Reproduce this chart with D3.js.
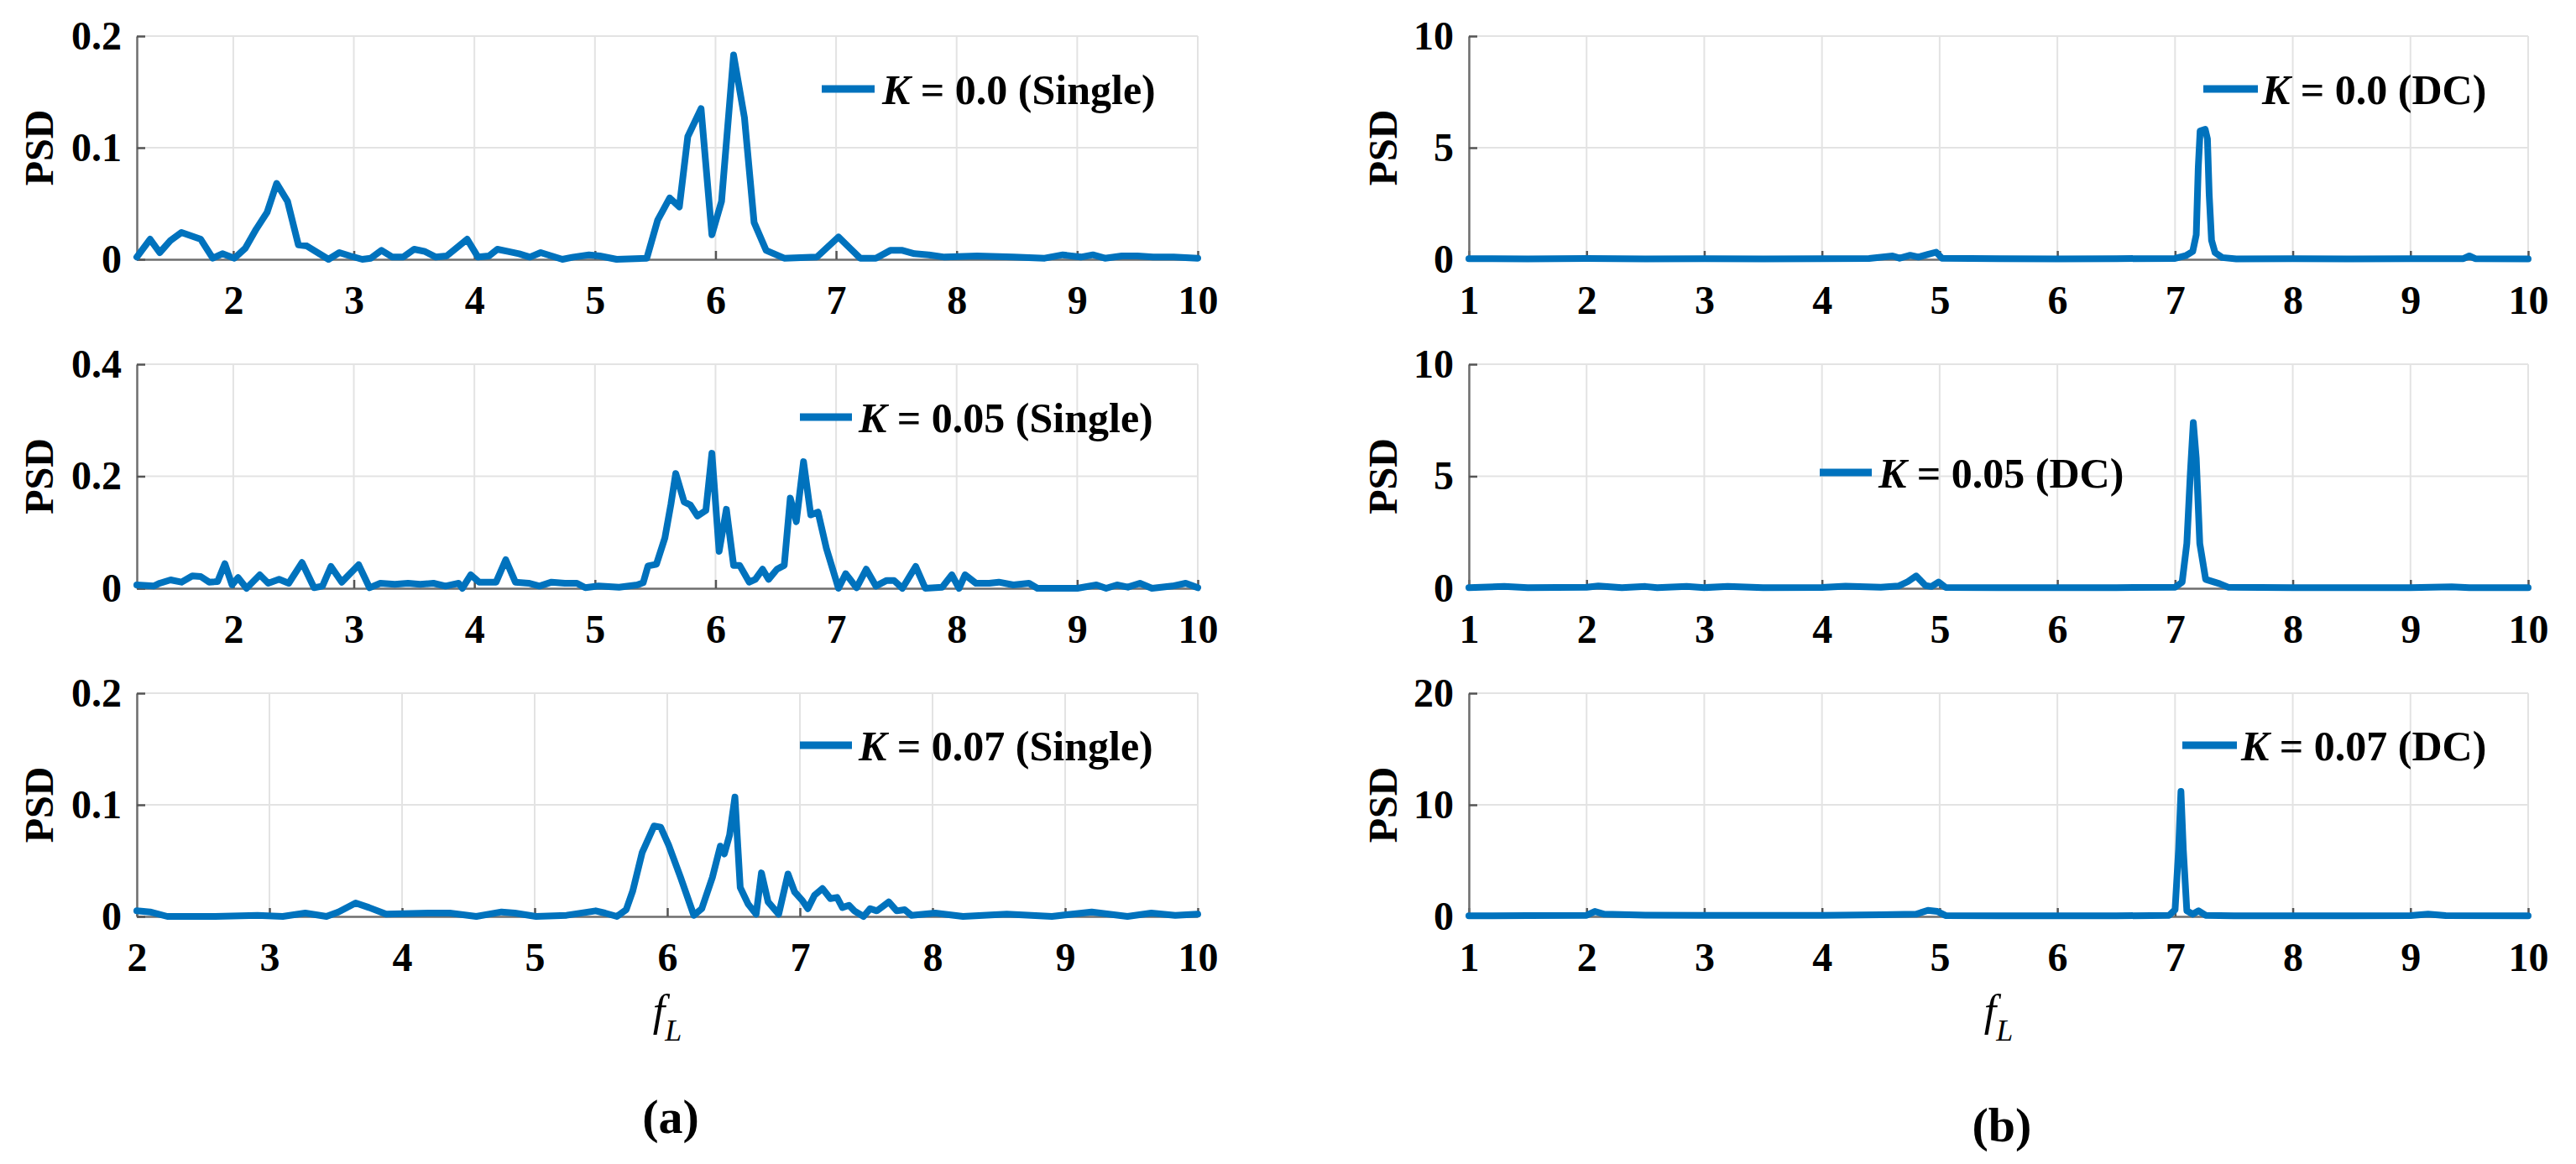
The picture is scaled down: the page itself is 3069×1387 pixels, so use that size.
<!DOCTYPE html>
<html>
<head>
<meta charset="utf-8">
<script src="https://cdn.jsdelivr.net/npm/d3@7"></script>
<style>
  html, body { margin: 0; padding: 0; background: #fff; }
  svg { display: block; }
  text { font-family: "Liberation Serif", "Times New Roman", serif; fill: #000; }
</style>
</head>
<body>
<svg id="fig" width="3069" height="1387"></svg>
<script>
"use strict";

// PSD curves, [f_L, PSD]
var singleK000 = [[1.2,0.002],[1.31,0.018],[1.39,0.006],[1.48,0.017],[1.57,0.024],[1.73,0.018],[1.83,0.001],[1.91,0.005],
  [2.01,0.001],[2.10,0.010],[2.19,0.027],[2.28,0.042],[2.36,0.068],[2.45,0.052],[2.54,0.013],[2.61,0.012],[2.79,0.000],
  [2.88,0.006],[2.97,0.003],[3.07,0.000],[3.14,0.001],[3.23,0.008],[3.32,0.002],[3.41,0.002],[3.50,0.009],[3.59,0.007],
  [3.68,0.002],[3.77,0.003],[3.94,0.018],[4.03,0.002],[4.12,0.003],[4.19,0.009],[4.28,0.007],[4.37,0.005],[4.46,0.002],
  [4.55,0.006],[4.64,0.003],[4.73,0.000],[4.82,0.002],[4.95,0.004],[5.04,0.003],[5.18,0.000],[5.43,0.001],[5.52,0.035],
  [5.62,0.055],[5.70,0.047],[5.77,0.110],[5.88,0.135],[5.97,0.022],[6.05,0.052],[6.15,0.183],[6.24,0.127],[6.32,0.033],
  [6.42,0.008],[6.57,0.001],[6.84,0.002],[7.02,0.020],[7.20,0.001],[7.33,0.001],[7.45,0.008],[7.55,0.008],[7.65,0.005],
  [7.77,0.004],[7.90,0.002],[8.17,0.003],[8.47,0.002],[8.73,0.001],[8.88,0.004],[9.03,0.002],[9.13,0.004],[9.23,0.001],
  [9.37,0.003],[9.50,0.003],[9.63,0.002],[9.80,0.002],[10.0,0.001]];

var singleK005 = [[1.2,0.006],[1.34,0.004],[1.39,0.009],[1.48,0.015],[1.57,0.011],[1.66,0.022],[1.73,0.021],[1.80,0.011],
  [1.87,0.012],[1.93,0.044],[1.99,0.006],[2.04,0.019],[2.11,0.000],[2.22,0.024],[2.29,0.009],[2.38,0.016],[2.46,0.009],
  [2.57,0.046],[2.67,0.001],[2.74,0.004],[2.81,0.039],[2.90,0.011],[3.04,0.042],[3.13,0.001],[3.22,0.009],[3.34,0.007],
  [3.45,0.009],[3.55,0.007],[3.66,0.009],[3.76,0.004],[3.87,0.009],[3.90,0.000],[3.97,0.024],[4.04,0.011],[4.18,0.011],
  [4.26,0.051],[4.34,0.011],[4.45,0.009],[4.54,0.004],[4.64,0.011],[4.75,0.009],[4.85,0.009],[4.92,0.001],[5.03,0.004],
  [5.20,0.002],[5.35,0.006],[5.40,0.010],[5.44,0.040],[5.51,0.043],[5.58,0.090],[5.63,0.150],[5.67,0.205],[5.74,0.154],
  [5.79,0.149],[5.85,0.129],[5.92,0.139],[5.97,0.241],[6.03,0.066],[6.09,0.141],[6.15,0.041],[6.20,0.041],[6.28,0.011],
  [6.33,0.016],[6.39,0.034],[6.44,0.016],[6.51,0.034],[6.57,0.041],[6.62,0.161],[6.67,0.119],[6.73,0.226],[6.79,0.131],
  [6.85,0.136],[6.92,0.071],[7.02,0.000],[7.08,0.026],[7.17,0.001],[7.25,0.034],[7.33,0.004],[7.42,0.014],[7.48,0.014],
  [7.55,0.000],[7.66,0.039],[7.74,0.000],[7.88,0.002],[7.96,0.024],[8.02,0.000],[8.07,0.024],[8.16,0.009],[8.27,0.009],
  [8.35,0.011],[8.47,0.006],[8.60,0.009],[8.67,0.000],[8.80,0.000],[9.00,0.000],[9.16,0.006],[9.24,0.000],[9.33,0.006],
  [9.42,0.002],[9.52,0.009],[9.62,0.000],[9.79,0.004],[9.90,0.009],[10.0,0.001]];

var singleK007 = [[2.0,0.005],[2.10,0.004],[2.23,0.000],[2.59,0.000],[2.91,0.001],[3.10,0.000],[3.27,0.003],[3.43,0.000],
  [3.52,0.004],[3.65,0.012],[3.75,0.008],[3.88,0.002],[4.20,0.003],[4.36,0.003],[4.56,0.000],[4.75,0.004],[4.85,0.003],
  [5.01,0.000],[5.24,0.001],[5.46,0.005],[5.53,0.003],[5.62,0.000],[5.69,0.006],[5.74,0.023],[5.81,0.057],[5.90,0.081],
  [5.95,0.080],[6.01,0.064],[6.10,0.035],[6.20,0.001],[6.26,0.007],[6.34,0.035],[6.40,0.063],[6.43,0.056],[6.47,0.073],
  [6.51,0.107],[6.55,0.026],[6.61,0.011],[6.67,0.002],[6.71,0.039],[6.76,0.013],[6.84,0.002],[6.91,0.038],[6.96,0.022],
  [7.02,0.014],[7.06,0.007],[7.11,0.019],[7.17,0.025],[7.23,0.016],[7.28,0.017],[7.32,0.008],[7.37,0.010],[7.41,0.005],
  [7.48,0.000],[7.53,0.007],[7.58,0.005],[7.67,0.013],[7.73,0.005],[7.79,0.006],[7.84,0.001],[8.02,0.003],[8.23,0.000],
  [8.56,0.002],[8.90,0.000],[9.20,0.004],[9.47,0.000],[9.65,0.003],[9.83,0.001],[10.0,0.002]];

var dcK000 = [[1.0,0.03],[1.5,0.02],[2.0,0.04],[2.5,0.02],[3.0,0.03],[3.5,0.02],[4.0,0.03],[4.4,0.04],[4.6,0.15],
  [4.66,0.05],[4.75,0.18],[4.82,0.10],[4.90,0.22],[4.97,0.32],[5.02,0.05],[5.5,0.03],[6.0,0.02],[6.5,0.03],[7.0,0.04],
  [7.09,0.16],[7.15,0.35],[7.18,1.1],[7.197,4.1],[7.213,5.75],[7.256,5.82],[7.275,5.4],[7.29,2.9],[7.31,0.85],[7.34,0.3],
  [7.40,0.08],[7.52,0.02],[8.0,0.03],[8.5,0.02],[9.0,0.03],[9.45,0.03],[9.5,0.15],[9.55,0.03],[10.0,0.02]];

var dcK005 = [[1.0,0.03],[1.3,0.08],[1.5,0.03],[2.0,0.05],[2.1,0.10],[2.3,0.03],[2.5,0.08],[2.6,0.03],[2.85,0.08],
  [3.0,0.03],[3.2,0.08],[3.5,0.03],[4.0,0.04],[4.2,0.09],[4.5,0.05],[4.65,0.10],[4.73,0.30],[4.80,0.55],[4.88,0.12],
  [4.93,0.08],[4.99,0.28],[5.05,0.04],[5.5,0.03],[6.0,0.03],[6.5,0.03],[7.0,0.05],[7.06,0.27],[7.10,2.0],[7.13,5.15],
  [7.155,7.4],[7.18,5.8],[7.21,2.0],[7.26,0.4],[7.38,0.2],[7.45,0.05],[8.0,0.03],[8.5,0.03],[9.0,0.03],[9.35,0.07],
  [9.5,0.03],[10.0,0.03]];

var dcK007 = [[1.0,0.05],[1.5,0.08],[2.0,0.10],[2.07,0.45],[2.15,0.20],[2.5,0.12],[3.0,0.10],[3.5,0.10],[4.0,0.10],
  [4.5,0.15],[4.8,0.20],[4.9,0.55],[4.98,0.45],[5.05,0.08],[5.5,0.05],[6.0,0.05],[6.5,0.05],[6.95,0.10],[7.0,0.6],
  [7.03,6.0],[7.05,11.2],[7.07,6.0],[7.10,0.5],[7.15,0.2],[7.2,0.5],[7.26,0.1],[7.5,0.05],[8.0,0.05],[8.5,0.05],
  [9.0,0.08],[9.15,0.20],[9.3,0.08],[10.0,0.05]];

// legend text after "K = "
var legendSingle = ["0.0 (Single)", "0.05 (Single)", "0.07 (Single)"];
var legendDC = ["0.0 (DC)", "0.05 (DC)", "0.07 (DC)"];

// tick labels
var xTicksA = [2, 3, 4, 5, 6, 7, 8, 9, 10];
var xTicksB = [1, 2, 3, 4, 5, 6, 7, 8, 9, 10];
var yTicksA = [[0, 0.1, 0.2], [0, 0.2, 0.4], [0, 0.1, 0.2]];
var yTicksB = [[0, 5, 10], [0, 5, 10], [0, 10, 20]];
var xMinA = [1.2, 1.2, 2];

var svg = d3.select("#fig");
var blue = "#0072BD";

//Rows and columns of the 3x2 grid of small plots
var rows = [{top: 43, zero: 309, leg: 106}, {top: 434, zero: 701, leg: 497}, {top: 826, zero: 1092, leg: 888}];
var colA = {x0: 163, x1: 1427, psdX: 46};
var colB = {x0: 1750, x1: 3012, psdX: 1647};

//Legend boxes: line start, line end, text start
var legA = [[979, 1042, 1051], [953, 1015, 1023], [953, 1015, 1023]];
var legB = [[2625, 2690, 2695], [2168, 2230, 2238], [2600, 2665, 2670]];
var legBy = [106, 563, 888];

function drawPanel(col, row, xDom, xTicks, yTicks, data, legText, leg, legY) {
  var x = d3.scaleLinear().domain(xDom).range([col.x0, col.x1]);
  var y = d3.scaleLinear().domain([0, yTicks[yTicks.length - 1]]).range([row.zero, row.top]);
  var g = svg.append("g");

  //grid
  g.append("g").selectAll("line").data(xTicks).enter().append("line")
    .attr("x1", function(d) { return x(d); }).attr("x2", function(d) { return x(d); })
    .attr("y1", row.top).attr("y2", row.zero)
    .attr("stroke", "#e3e3e3").attr("stroke-width", 2);
  g.append("g").selectAll("line").data(yTicks.slice(1)).enter().append("line")
    .attr("x1", col.x0).attr("x2", col.x1)
    .attr("y1", function(d) { return y(d); }).attr("y2", function(d) { return y(d); })
    .attr("stroke", "#e3e3e3").attr("stroke-width", 2);

  //axes
  var ax = g.append("g").attr("transform", "translate(0," + row.zero + ")")
    .call(d3.axisBottom(x).tickValues(xTicks).tickSizeInner(-10).tickSizeOuter(0).tickPadding(31)
      .tickFormat(d3.format("~g")));
  var ay = g.append("g").attr("transform", "translate(" + col.x0 + ",0)")
    .call(d3.axisLeft(y).tickValues(yTicks).tickSizeInner(-10).tickSizeOuter(0).tickPadding(18)
      .tickFormat(d3.format("~g")));
  [ax, ay].forEach(function(a) {
    a.select(".domain").attr("stroke", "#6e6e6e").attr("stroke-width", 2.5);
    a.selectAll(".tick line").attr("stroke", "#555").attr("stroke-width", 2.5);
    a.selectAll(".tick text").attr("fill", "#000")
      .style("font-family", "'Liberation Serif', serif").style("font-size", "48px").style("font-weight", "bold");
  });

  //PSD curve
  var line = d3.line().x(function(d) { return x(d[0]); }).y(function(d) { return y(d[1]); });
  g.append("path").datum(data).attr("d", line)
    .attr("fill", "none").attr("stroke", blue).attr("stroke-width", 8)
    .attr("stroke-linejoin", "round").attr("stroke-linecap", "round");

  //y label
  var my = (row.top + row.zero) / 2;
  g.append("text").attr("transform", "translate(" + col.psdX + "," + my + ") rotate(-90)")
    .attr("text-anchor", "middle").attr("dy", "0.35em")
    .attr("font-size", "48px").attr("font-weight", "bold").text("PSD");

  //legend
  g.append("line").attr("x1", leg[0]).attr("x2", leg[1]).attr("y1", legY).attr("y2", legY)
    .attr("stroke", blue).attr("stroke-width", 9);
  var t = g.append("text").attr("x", leg[2]).attr("y", legY).attr("dy", "0.36em")
    .attr("font-size", "50px").attr("font-weight", "bold");
  t.append("tspan").attr("font-style", "italic").text("K");
  t.append("tspan").text(" = " + legText);
}

var singles = [singleK000, singleK005, singleK007];
var dcs = [dcK000, dcK005, dcK007];
for (var i = 0; i < 3; i++) {
  drawPanel(colA, rows[i], [xMinA[i], 10], xTicksA, yTicksA[i], singles[i], legendSingle[i], legA[i], rows[i].leg);
  drawPanel(colB, rows[i], [1, 10], xTicksB, yTicksB[i], dcs[i], legendDC[i], legB[i], legBy[i]);
}

//x labels and panel captions
[[795, "(a)", 1350], [2381, "(b)", 1360]].forEach(function(c) {
  var fl = svg.append("text").attr("x", c[0]).attr("y", 1222).attr("text-anchor", "middle")
    .attr("font-size", "52px").attr("font-style", "italic");
  fl.append("tspan").text("f");
  fl.append("tspan").attr("dy", 18).attr("font-size", "36px").text("L");
  svg.append("text").attr("x", c[0] + 4).attr("y", c[2]).attr("text-anchor", "middle")
    .attr("font-size", "58px").attr("font-weight", "bold").text(c[1]);
});
</script>
</body>
</html>
